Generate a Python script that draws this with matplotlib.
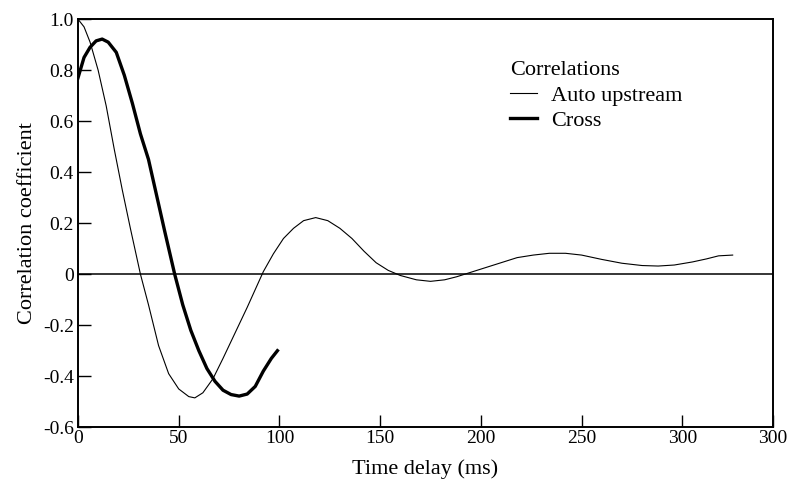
import matplotlib
matplotlib.use("Agg")
import matplotlib.pyplot as plt

# Auto upstream correlation (thin line)
auto_t = [0, 3, 6, 10, 14, 18, 22, 26, 31, 35, 40, 45, 50, 55, 58, 62, 67, 72,
          78, 84, 88, 92, 97, 102, 107, 112, 118, 124, 130, 136, 142, 148, 154,
          160, 168, 175, 182, 188, 194, 202, 210, 218, 226, 234, 242, 250, 260,
          270, 280, 288, 296, 305, 312, 318, 325]
auto_r = [1.0, 0.97, 0.91, 0.80, 0.66, 0.49, 0.33, 0.18, 0.0, -0.12, -0.28,
          -0.39, -0.45, -0.48, -0.485, -0.465, -0.41, -0.33, -0.23, -0.13,
          -0.06, 0.01, 0.08, 0.14, 0.18, 0.21, 0.222, 0.21, 0.18, 0.14, 0.09,
          0.045, 0.015, -0.005, -0.022, -0.028, -0.022, -0.01, 0.005, 0.025,
          0.045, 0.065, 0.075, 0.082, 0.082, 0.075, 0.058, 0.043, 0.034, 0.032,
          0.036, 0.048, 0.06, 0.072, 0.075]

# Cross correlation (thick line)
cross_t = [0, 3, 6, 9, 12, 15, 19, 23, 27, 31, 35, 39, 43, 48, 52, 56, 60, 64,
           68, 72, 76, 80, 84, 88, 92, 96, 99]
cross_r = [0.77, 0.85, 0.89, 0.915, 0.922, 0.91, 0.87, 0.78, 0.67, 0.55, 0.45,
           0.31, 0.17, 0.0, -0.12, -0.22, -0.30, -0.37, -0.42, -0.455, -0.472,
           -0.478, -0.47, -0.44, -0.38, -0.33, -0.30]

x_ticks = [0, 50, 100, 150, 200, 250, 300, 345]
x_labels = ["0", "50", "100", "150", "200", "250", "300", "300"]
y_ticks = [-0.6, -0.4, -0.2, 0, 0.2, 0.4, 0.6, 0.8, 1.0]
y_labels = ["-0.6", "-0.4", "-0.2", "0", "0.2", "0.4", "0.6", "0.8", "1.0"]

plt.rcParams["font.family"] = ["Liberation Serif", "DejaVu Serif"]

fig = plt.figure(figsize=(7.91, 4.8), dpi=100)
ax = fig.add_axes([0.0986, 0.110, 0.8786, 0.850])

ax.axhline(0, color="black", lw=1.1)
ax.plot(auto_t, auto_r, color="black", lw=0.8, label="Auto upstream")
ax.plot(cross_t, cross_r, color="black", lw=2.4, label="Cross")

ax.set_xlim(0, 345)
ax.set_ylim(-0.6, 1.0)
ax.set_xticks(x_ticks)
ax.set_xticklabels(x_labels)
ax.set_yticks(y_ticks)
ax.set_yticklabels(y_labels)
ax.tick_params(direction="in", length=9, width=1.0, labelsize=14)
ax.tick_params(axis="x", pad=2)
ax.tick_params(axis="y", pad=3)
for s in ax.spines.values():
    s.set_linewidth(1.4)

ax.set_xlabel("Time delay (ms)", fontsize=16, labelpad=9)
ax.set_ylabel("Correlation coefficient", fontsize=16, labelpad=4)

leg = ax.legend(title="Correlations", loc="upper left",
                bbox_to_anchor=(0.622, 0.897), frameon=False,
                fontsize=16, title_fontsize=16, alignment="left",
                handlelength=1.2, handletextpad=0.65, borderpad=0,
                borderaxespad=0, labelspacing=0.22)

fig.savefig("out.png", dpi=100)
